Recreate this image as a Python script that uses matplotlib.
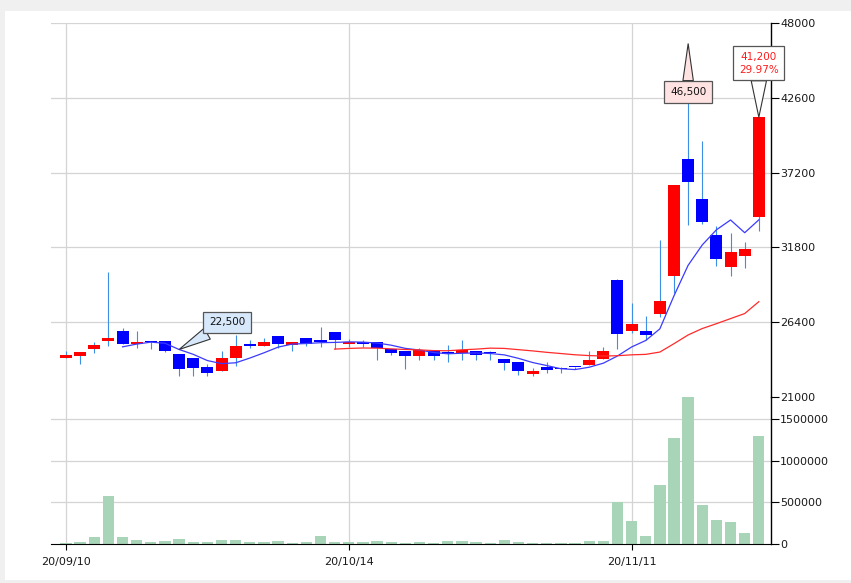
import matplotlib
matplotlib.use('Agg')
import matplotlib.pyplot as plt
from matplotlib.patches import Rectangle
import numpy as np
import pandas as pd

# daily candles, 50 trading days from 20/09/10
opens = [23800, 23950, 24450, 25050, 25800, 24850, 25050, 25050, 24100, 23850,
         23150, 22850, 23800, 24850, 24700, 25400, 24750, 25250, 25150, 25700,
         24850, 25000, 24950, 24450, 24300, 23950, 24300, 24250, 24200, 24350,
         24250, 23750, 23500, 22650, 23200, 23100, 23200, 23300, 23750, 29450,
         25750, 25800, 27000, 29750, 38150, 35300, 32700, 30350, 31200, 34000]
highs = [24300, 24250, 24950, 30000, 25950, 25750, 25050, 25050, 24100, 23850,
         23350, 24350, 25450, 25150, 25250, 25400, 25000, 25250, 26050, 25700,
         25200, 25150, 25000, 24450, 24300, 24550, 24300, 24750, 25150, 24350,
         24300, 23750, 23500, 23100, 23500, 23200, 23200, 24300, 24600, 29500,
         27800, 26850, 32350, 36300, 46500, 39500, 33350, 32850, 32200, 41200]
lows = [23800, 23350, 24200, 24650, 24850, 24550, 24450, 24250, 22500, 22550,
        22550, 22850, 23250, 24550, 24700, 24550, 24350, 24700, 24600, 24500,
        24600, 24600, 23650, 24000, 23000, 23650, 23650, 23550, 23650, 23650,
        23650, 22950, 22600, 22550, 22750, 22750, 23000, 23300, 23750, 24450,
        25600, 25100, 26800, 28500, 33450, 33500, 30450, 29700, 30300, 32950]
closes = [24000, 24250, 24750, 25250, 24850, 25000, 24950, 24350, 23000, 23100,
          22750, 23850, 24650, 24700, 25000, 24800, 24950, 24850, 25000, 25100,
          25000, 24850, 24550, 24200, 23950, 24400, 23950, 24100, 24400, 24050,
          24200, 23450, 22850, 22900, 22950, 23050, 23150, 23700, 24350, 25550,
          26300, 25500, 27900, 36300, 36550, 33650, 30950, 31450, 31700, 41200]
volumes = [15000, 27000, 88000, 580000, 88000, 52000, 27000, 40000, 64000, 27000,
           27000, 52000, 52000, 27000, 27000, 40000, 15000, 27000, 100000, 27000,
           27000, 27000, 40000, 27000, 15000, 27000, 15000, 40000, 40000, 27000,
           15000, 52000, 27000, 15000, 15000, 15000, 15000, 40000, 40000, 508000,
           280000, 100000, 713000, 1278000, 1762000, 472000, 292000, 268000, 136000, 1302000]

date_ticks = [0, 20, 40]
date_labels = ['20/09/10', '20/10/14', '20/11/11']
price_ticks = [21000, 26400, 31800, 37200, 42600, 48000]
volume_ticks = [0, 500000, 1000000, 1500000]

o = np.array(opens)
h = np.array(highs)
l = np.array(lows)
c = np.array(closes)
x = np.arange(len(c))
ma5 = pd.Series(c).rolling(5).mean()
ma20 = pd.Series(c).rolling(20).mean()

W, H = 851, 583
fig = plt.figure(figsize=(W / 100, H / 100), dpi=100, facecolor='#f0f0f0')
fig.add_artist(Rectangle((5 / W, 3 / H), 846 / W, 569 / H, transform=fig.transFigure,
                         fc='white', ec='none', zorder=0))

left, right = 51 / W, 771 / W
ax = fig.add_axes([left, 1 - 397 / H, right - left, (397 - 23) / H])
axv = fig.add_axes([left, 1 - 544 / H, right - left, (544 - 397) / H], sharex=ax)

grid_c = '#d4d4d4'
for a in (ax, axv):
    a.set_facecolor('none')
    a.spines['top'].set_visible(False)
    a.spines['left'].set_visible(False)
    a.spines['right'].set_linewidth(1.0)
    a.yaxis.tick_right()
    a.tick_params(axis='y', direction='out', length=5.5, width=0.8, pad=1,
                  labelsize=8, labelcolor='#1a1a1a')
    a.set_xticks(date_ticks)
    a.grid(True, color=grid_c, linewidth=0.9)
    a.set_axisbelow(True)
ax.spines['bottom'].set_visible(False)
ax.tick_params(axis='x', length=0, labelbottom=False)
axv.tick_params(axis='x', direction='out', length=4.5, width=0.8, pad=5,
                labelsize=8, labelcolor='#1a1a1a')
axv.set_xticklabels(date_labels)

# candles
up = c >= o
wick_c = '#3d8fe6'
ax.vlines(x, l, h, color=wick_c, linewidth=0.8, zorder=2)
body = np.where(np.abs(c - o) < 60, 60, np.abs(c - o))
ax.bar(x, body, bottom=np.minimum(o, c), width=0.85,
       color=np.where(up, '#ff0000', '#0000ff'), zorder=3)
ax.plot(x, ma5, color='#3a3aff', linewidth=0.9, zorder=4)
ax.plot(x, ma20, color='#ff2a2a', linewidth=0.9, zorder=4)

ax.set_ylim(21000, 48000)
ax.set_yticks(price_ticks)
ax.set_yticklabels([str(v) for v in price_ticks])
ax.yaxis.get_gridlines()[0].set_visible(False)
ax.set_xlim(-1.06, 49.86)

# volume
axv.bar(x, volumes, width=0.8, color='#a8d5b8', zorder=2)
axv.set_ylim(0, 1766800)
axv.set_yticks(volume_ticks)
axv.set_yticklabels([str(v) for v in volume_ticks])
axv.yaxis.get_gridlines()[0].set_visible(False)

# callouts
def callout(text, xy, offset, fc, color='#111111', tail=1.0):
    ax.annotate(text, xy=xy, xytext=offset, textcoords='offset pixels',
                ha='center', va='center', fontsize=7.5, color=color,
                linespacing=1.35, zorder=10, annotation_clip=False,
                bbox=dict(boxstyle='square,pad=0.55', fc=fc, ec='#555555', lw=0.9),
                arrowprops=dict(arrowstyle=f'wedge,tail_width={tail},shrink_factor=0.5',
                                fc=fc, ec='#333333', lw=0.8, shrinkA=0, shrinkB=0,
                                mutation_scale=10))

imax = int(np.argmax(h))
imin = int(np.argmin(l))
callout(f'{h[imax]:,}', (imax, h[imax]), (0, -48), '#ffe2e2', tail=0.75)
callout(f'{l[imin]:,}', (imin, ma5[imin]), (48, 27), '#d8e8fb', tail=0.9)
pct = (c[-1] / c[-2] - 1) * 100
callout(f'{c[-1]:,}\n{pct:.2f}%', (x[-1], c[-1]), (0, 54), 'white', color='#ff1a1a', tail=1.1)

fig.savefig('out.png', dpi=100, facecolor=fig.get_facecolor())
